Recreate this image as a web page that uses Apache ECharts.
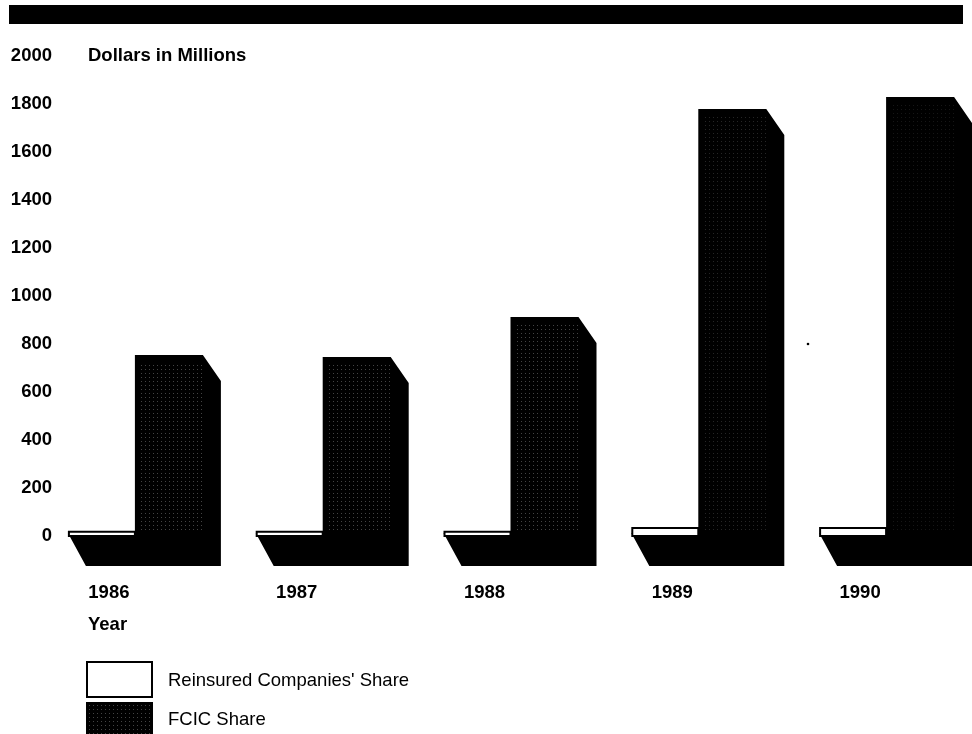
<!DOCTYPE html>
<html>
<head>
<meta charset="utf-8">
<style>html,body{margin:0;padding:0;background:#fff}#chart{width:972px;height:734px}</style>
<script src="https://cdn.jsdelivr.net/npm/echarts@6/dist/echarts.min.js"></script>
</head>
<body>
<div id="chart"></div>
<script>
// Federal crop insurance premiums by year, split between FCIC and reinsured companies.
const years = ['1986', '1987', '1988', '1989', '1990'];
const reinsuredShare = [22, 22, 22, 38, 38];
const fcicShare = [754, 746, 912, 1779, 1829];

const INK = '#000';
const FONT = '"Liberation Sans", Arial, sans-serif';
const TEXT_SIZE = 18.5;

// Sparse grey dots on black, used for the shaded faces of the FCIC columns.
function stipple(dot) {
  const c = document.createElement('canvas');
  c.width = 4; c.height = 4;
  const g = c.getContext('2d');
  g.fillStyle = INK;
  g.fillRect(0, 0, 4, 4);
  g.fillStyle = dot;
  g.fillRect(1, 1, 1, 1);
  return c;
}
// The shading prints darker on the two tallest columns.
const dotTones = ['#444', '#444', '#444', '#262626', '#161616'];
const faceFills = dotTones.map(t => ({ image: stipple(t), repeat: 'repeat' }));
const legendFill = { image: stipple('#444'), repeat: 'repeat' };

const BAR_W = 68;      // width of each column's front face
const DEPTH_X = 18;    // sideways extrusion of the columns
const DEPTH_TOP = 26;  // drop of the slanted top edge
const DEPTH_BASE = 33; // drop of the floor shadow
const SHIFT = 26;      // columns sit right of the year labels

function renderFcic(params, api) {
  const i = api.value(0);
  const base = api.coord([i, 0]);
  const top = api.coord([i, api.value(1)]);
  const x0 = base[0] + SHIFT;
  const x1 = x0 + BAR_W;
  const yb = base[1] - 3;
  const floorLeft = x0 - 67;
  return {
    type: 'group',
    children: [
      {
        // Body of the column with its slanted top and floor shadow.
        type: 'polygon',
        shape: { points: [
          [x0, top[1]], [x1, top[1]], [x1 + DEPTH_X, top[1] + DEPTH_TOP],
          [x1 + DEPTH_X, yb + DEPTH_BASE], [floorLeft + DEPTH_X, yb + DEPTH_BASE],
          [floorLeft, yb], [x0, yb]
        ] },
        style: { fill: INK }
      },
      {
        // Shaded front face, inset from the solid edges.
        type: 'rect',
        shape: { x: x0 + 6, y: top[1] + 8, width: BAR_W - 6, height: yb - top[1] - 8 },
        style: { fill: faceFills[i] }
      }
    ]
  };
}

function renderReinsured(params, api) {
  const i = api.value(0);
  const base = api.coord([i, 0]);
  const top = api.coord([i, api.value(1)]);
  const x0 = base[0] + SHIFT - 67;
  return {
    type: 'rect',
    shape: { x: x0 + 1, y: top[1] + 1, width: 66, height: base[1] - top[1] - 1 },
    style: { fill: '#fff', stroke: INK, lineWidth: 2 }
  };
}

const chart = echarts.init(document.getElementById('chart'), null, { renderer: 'canvas' });
chart.setOption({
  backgroundColor: '#fff',
  animation: false,
  grid: { left: 15, width: 939, top: 56, height: 480 },
  xAxis: {
    type: 'category',
    data: years,
    axisLine: { show: false },
    axisTick: { show: false },
    axisLabel: { color: INK, fontFamily: FONT, fontWeight: 'bold', fontSize: TEXT_SIZE, margin: 47 }
  },
  yAxis: {
    type: 'value',
    min: 0, max: 2000, interval: 200,
    splitLine: { show: false },
    axisLine: { show: false },
    axisTick: { show: false },
    axisLabel: {
      color: INK, fontFamily: FONT, fontWeight: 'bold', fontSize: TEXT_SIZE,
      margin: -37, align: 'right', formatter: v => String(v)
    }
  },
  series: [
    {
      name: 'FCIC Share', type: 'custom', clip: false, z: 2,
      renderItem: renderFcic,
      encode: { x: 0, y: 1 },
      data: fcicShare.map((v, i) => [i, v])
    },
    {
      name: "Reinsured Companies' Share", type: 'custom', clip: false, z: 3,
      renderItem: renderReinsured,
      encode: { x: 0, y: 1 },
      data: reinsuredShare.map((v, i) => [i, v])
    }
  ],
  graphic: [
    { type: 'rect', shape: { x: 9, y: 5, width: 954, height: 19 }, style: { fill: INK } },
    { type: 'text', x: 88, y: 56, style: { text: 'Dollars in Millions', fill: INK, fontFamily: FONT, fontWeight: 'bold', fontSize: TEXT_SIZE, verticalAlign: 'middle' } },
    { type: 'text', x: 88, y: 625, style: { text: 'Year', fill: INK, fontFamily: FONT, fontWeight: 'bold', fontSize: TEXT_SIZE, verticalAlign: 'middle' } },
    { type: 'rect', shape: { x: 87, y: 662, width: 65, height: 35 }, style: { fill: '#fff', stroke: INK, lineWidth: 2 } },
    { type: 'rect', shape: { x: 86, y: 702, width: 67, height: 32 }, style: { fill: legendFill } },
    { type: 'text', x: 168, y: 681, style: { text: "Reinsured Companies' Share", fill: INK, fontFamily: FONT, fontSize: TEXT_SIZE, verticalAlign: 'middle' } },
    { type: 'text', x: 168, y: 720, style: { text: 'FCIC Share', fill: INK, fontFamily: FONT, fontSize: TEXT_SIZE, verticalAlign: 'middle' } },
    { type: 'circle', shape: { cx: 808, cy: 344, r: 1.3 }, style: { fill: INK } }
  ]
});
</script>
</body>
</html>
